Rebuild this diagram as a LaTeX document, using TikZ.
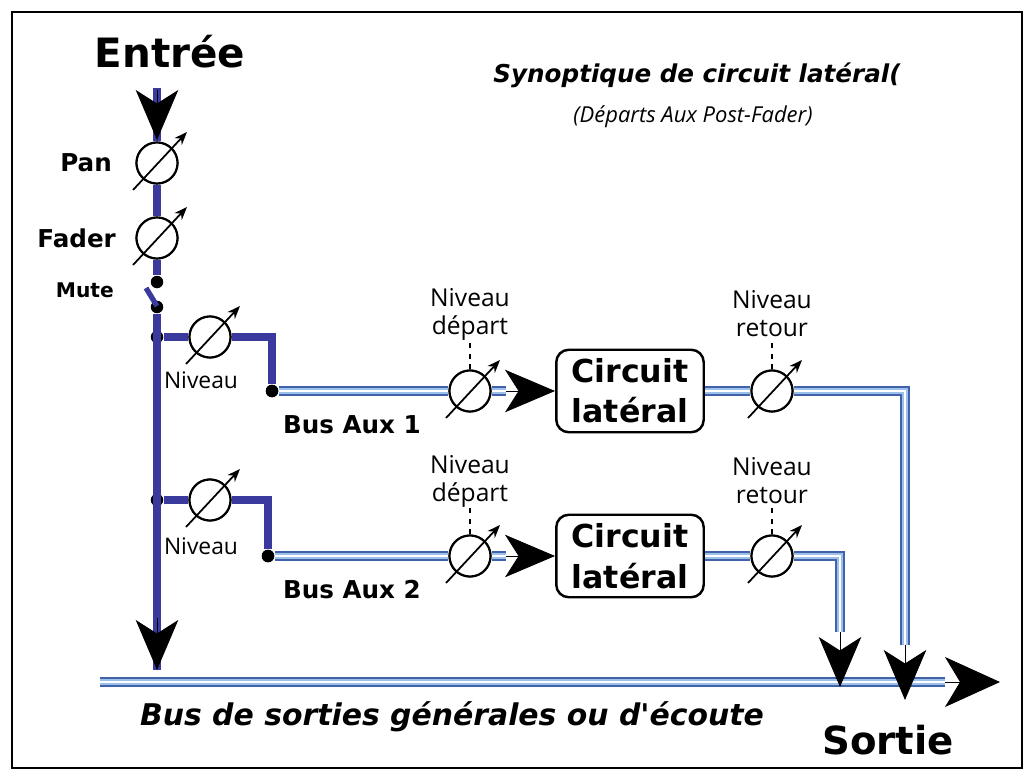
\documentclass[tikz,border=0pt]{standalone}
\usepackage{fontspec}
\setmainfont{Open Sans}
\newfontfamily\heavy{DejaVu Sans}
\usetikzlibrary{arrows.meta,calc}
\definecolor{navy}{HTML}{3A3A9E}
\definecolor{busout}{HTML}{3F62A8}
\definecolor{busin}{HTML}{9DC0EA}
\begin{document}
\begin{tikzpicture}[x=0.02cm,y=-0.02cm,
  pot/.style={circle,draw,line width=1.2pt,fill=white,minimum size=0.82cm,inner sep=0pt},
  wire/.style={navy,line width=4pt},
  bus/.style={busout,line width=5.8pt,postaction={draw=busin,line width=3.8pt},postaction={draw=white,line width=1.2pt}},
  tip/.style={-{Stealth[length=1.0cm,width=0.85cm,inset=0.27cm]},line width=0.5pt},
  bigtip/.style={-{Stealth[length=1.1cm,width=1.0cm,inset=0.3cm]},line width=0.5pt},
  knob/.style={-{Stealth[length=0.26cm,width=0.2cm]},line width=1pt},
  dot/.style={circle,fill=black,inner sep=0pt,minimum size=0.25cm},
  hv/.style={font=\heavy\bfseries},
  lbl/.style={font=\fontsize{14}{16}\selectfont,align=center}]
\useasboundingbox (0,0) rectangle (1035,781);
\draw[line width=0.8pt] (12,12) rectangle (1022,768);
% texts
\node[hv,font=\heavy\bfseries\fontsize{23}{26}\selectfont] (entree) at (170,52) {Entrée};
\node[hv,font=\heavy\bfseries\itshape\fontsize{14}{16}\selectfont] (title) at (697,75) {Synoptique de circuit latéral(};
\node[font=\itshape\fontsize{12.5}{14}\selectfont] (sub) at (693,117) {(Départs Aux Post-Fader)};
% main line nodes
\coordinate (top) at (157,88);
\node[pot] (pan) at (157,163) {};
\node[pot] (fader) at (157,238) {};
\node[dot] (m1) at (157,282) {};
\node[dot] (m2) at (157,307) {};
\node[dot] (j1) at (157,337) {};
\node[dot] (j2) at (157,500) {};
\coordinate (mainend) at (157,670);
\node[hv,anchor=east,font=\heavy\bfseries\fontsize{14}{15}\selectfont] (lpan) at (118,163) {Pan};
\node[hv,anchor=east,font=\heavy\bfseries\fontsize{14}{15}\selectfont] (lfad) at (122,238) {Fader};
\node[hv,anchor=east,font=\heavy\bfseries\fontsize{11.5}{13}\selectfont] (lmute) at (120,290) {Mute};
\draw[wire] (top) -- (pan) -- (fader) -- (m1);
\draw[wire] (m2) -- (mainend);
\draw[navy,line width=3pt] (146,288) -- (157,306);
% branch pots
\node[pot] (n1) at (210,337) {};
\node[pot] (n2) at (210,500) {};
\coordinate (c1) at (272,337);
\coordinate (c2) at (268,500);
\node[dot] (d1) at (272,391) {};
\node[dot] (d2) at (268,556) {};
\draw[wire] (j1) -- (n1) -- (c1) -- (d1);
\draw[wire] (j2) -- (n2) -- (c2) -- (d2);
\node[lbl,font=\fontsize{13}{14}\selectfont] (ln1) at (201,380) {Niveau};
\node[lbl,font=\fontsize{13}{14}\selectfont] (ln2) at (201,546) {Niveau};
% boxes
\node[draw,line width=1.4pt,rounded corners=0.25cm,minimum width=2.95cm,minimum height=1.65cm,align=center,font=\heavy\bfseries\fontsize{18}{23}\selectfont] (b1) at (630,391) {Circuit\\latéral};
\node[draw,line width=1.4pt,rounded corners=0.25cm,minimum width=2.95cm,minimum height=1.65cm,align=center,font=\heavy\bfseries\fontsize{18}{23}\selectfont] (b2) at (630,556) {Circuit\\latéral};
% bus pots
\node[pot] (s1) at (470,391) {};
\node[pot] (r1) at (772,391) {};
\node[pot] (s2) at (470,556) {};
\node[pot] (r2) at (772,556) {};
\coordinate (a1) at (506,391);
\coordinate (a2) at (506,556);
\coordinate (k1) at (905,391);
\coordinate (k2) at (840,556);
\coordinate (e1) at (905,645);
\coordinate (e2) at (840,632);
\coordinate (t1) at (905,700);
\coordinate (t2) at (840,687);
\coordinate (bs) at (100,682);
\coordinate (be) at (945,682);
\coordinate (bt) at (1000,682);
\draw[bus] (bs) -- (be);
\draw[bus] (d1) -- (s1) -- (a1);
\draw[bus] (d2) -- (s2) -- (a2);
\draw[bus] (b1.east) -- (r1) -- (k1) -- (e1);
\draw[bus] (b2.east) -- (r2) -- (k2) -- (e2);
\node[pot] at (s1) {};\node[pot] at (r1) {};\node[pot] at (s2) {};\node[pot] at (r2) {};
\node[pot] at (n1) {};\node[pot] at (n2) {};\node[pot] at (pan) {};\node[pot] at (fader) {};
\node[dot] at (d1) {};\node[dot] at (d2) {};
% arrowheads
\coordinate (tin) at (157,90);
\coordinate (tinend) at (157,140);
\draw[tip] (tin) -- (tinend);
\draw[tip] (157,618) -- (mainend);
\draw[tip] (a1) -- (b1.west |- a1);
\draw[tip] (a2) -- (b2.west |- a2);
\draw[tip] (e1) -- (t1);
\draw[tip] (e2) -- (t2);
\draw[bigtip] (be) -- (bt);
% knob arrows
\foreach \p in {pan,fader,n1,n2,s1,r1,s2,r2}
  \draw[knob] ($(\p)+(-24,27)$) -- ($(\p)+(30,-31)$);
% dashed
\draw[dashed,line width=0.7pt] (s1.north) -- ++(0,-26);
\draw[dashed,line width=0.7pt] (r1.north) -- ++(0,-26);
\draw[dashed,line width=0.7pt] (s2.north) -- ++(0,-26);
\draw[dashed,line width=0.7pt] (r2.north) -- ++(0,-26);
\node[lbl] (ls1) at (470,314) {Niveau\\départ};
\node[lbl] (lr1) at (772,314) {Niveau\\retour};
\node[lbl] (ls2) at (470,481) {Niveau\\départ};
\node[lbl] (lr2) at (772,481) {Niveau\\retour};
\node[hv,font=\heavy\bfseries\fontsize{14}{15}\selectfont] (ba1) at (352,425) {Bus Aux 1};
\node[hv,font=\heavy\bfseries\fontsize{14}{15}\selectfont] (ba2) at (352,590) {Bus Aux 2};
\node[hv,font=\heavy\bfseries\itshape\fontsize{17}{19}\selectfont] (bus) at (452,717) {Bus de sorties générales ou d'écoute};
\node[hv,font=\heavy\bfseries\fontsize{22}{25}\selectfont] (sortie) at (888,740) {Sortie};
\end{tikzpicture}
\end{document}
